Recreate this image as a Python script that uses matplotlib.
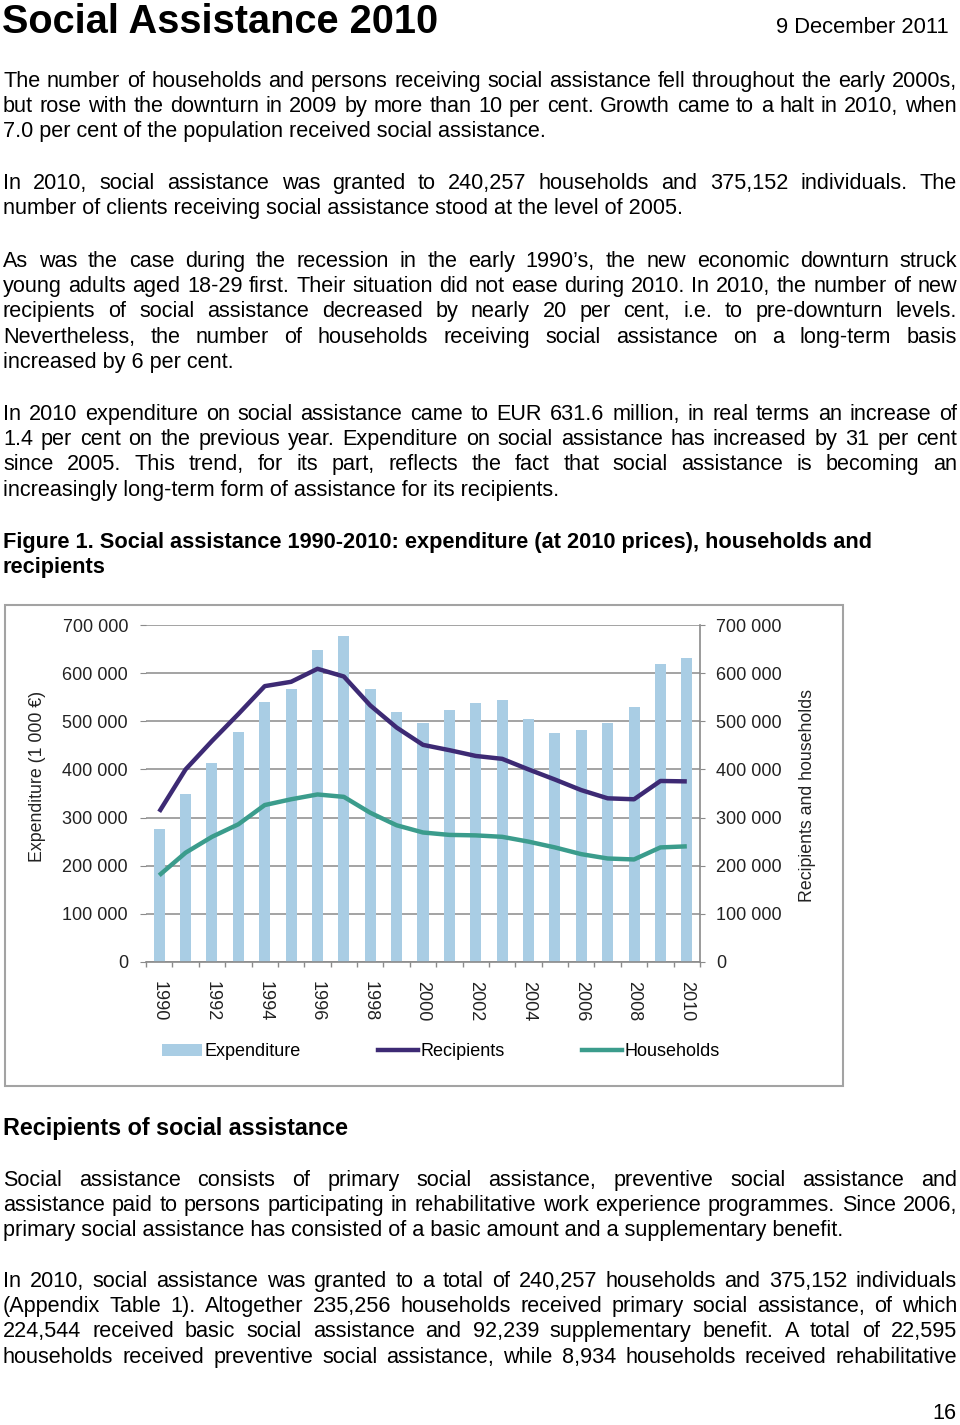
import matplotlib
matplotlib.use("Agg")
import matplotlib.pyplot as plt
from matplotlib.patches import Rectangle
from matplotlib.lines import Line2D
import numpy as np

plt.rcParams['font.family'] = ['Liberation Sans', 'DejaVu Sans']

# ── Chart data ────────────────────────────────────────────────────────────────
years = list(range(1990, 2011))
expenditure = [276000, 350000, 413000, 478000, 540000, 568000, 649000, 677000,
               568000, 519000, 497000, 523000, 537000, 544000, 505000, 475000,
               481000, 497000, 529000, 620000, 631600]
recipients = [312000, 400000, 459000, 515000, 573000, 582000, 609000, 593000,
              533000, 487000, 451000, 440000, 428000, 422000, 400000, 379000,
              357000, 340000, 338000, 376000, 375152]
households = [180000, 227000, 260000, 286000, 326000, 338000, 348000, 343000,
              310000, 284000, 269000, 264000, 263000, 260000, 250000, 238000,
              224000, 215000, 213000, 238000, 240257]
y_ticks = [0, 100000, 200000, 300000, 400000, 500000, 600000, 700000]
series_names = ["Expenditure", "Recipients", "Households"]

# ── Page text ─────────────────────────────────────────────────────────────────
paragraphs = [
    (87, ["The number of households and persons receiving social assistance fell throughout the early 2000s,",
          "but rose with the downturn in 2009 by more than 10 per cent. Growth came to a halt in 2010, when",
          "7.0 per cent of the population received social assistance."]),
    (189, ["In 2010, social assistance was granted to 240,257 households and 375,152 individuals. The",
           "number of clients receiving social assistance stood at the level of 2005."]),
    (267, ["As was the case during the recession in the early 1990\u2019s, the new economic downturn struck",
           "young adults aged 18-29 first. Their situation did not ease during 2010. In 2010, the number of new",
           "recipients of social assistance decreased by nearly 20 per cent, i.e. to pre-downturn levels.",
           "Nevertheless, the number of households receiving social assistance on a long-term basis",
           "increased by 6 per cent."]),
    (420, ["In 2010 expenditure on social assistance came to EUR 631.6 million, in real terms an increase of",
           "1.4 per cent on the previous year. Expenditure on social assistance has increased by 31 per cent",
           "since 2005. This trend, for its part, reflects the fact that social assistance is becoming an",
           "increasingly long-term form of assistance for its recipients."]),
    (1186, ["Social assistance consists of primary social assistance, preventive social assistance and",
            "assistance paid to persons participating in rehabilitative work experience programmes. Since 2006,",
            "primary social assistance has consisted of a basic amount and a supplementary benefit."]),
]
# last paragraph is cut by the page end, so every line is justified
last_paragraph = (1287, ["In 2010, social assistance was granted to a total of 240,257 households and 375,152 individuals",
                         "(Appendix Table 1). Altogether 235,256 households received primary social assistance, of which",
                         "224,544 received basic social assistance and 92,239 supplementary benefit. A total of 22,595",
                         "households received preventive social assistance, while 8,934 households received rehabilitative"])

W, H = 960, 1425
BODY = 15.6
LEAD = 25.2
C_BAR = "#a9cde4"
C_REC = "#3d2a74"
C_HH = "#3b9c8c"
C_AX = "#8a8a8a"

fig = plt.figure(figsize=(W / 100, H / 100), dpi=100)
bg = fig.add_axes([0, 0, 1, 1])
bg.set_xlim(0, W)
bg.set_ylim(H, 0)
bg.axis('off')
renderer = fig.canvas.get_renderer()


def justify(y, line, size=BODY, x0=3, x1=957):
    words = line.split(' ')
    texts = [bg.text(0, y, w, fontsize=size, va='baseline', ha='left') for w in words]
    widths = [t.get_window_extent(renderer).width for t in texts]
    gap = (x1 - x0 - sum(widths)) / (len(words) - 1)
    x = x0
    for t, w in zip(texts, widths):
        t.set_x(x)
        x += w + gap


def paragraph(y0, lines, last_justified=False):
    for i, line in enumerate(lines):
        y = y0 + i * LEAD
        if i < len(lines) - 1 or last_justified:
            justify(y, line)
        else:
            bg.text(3, y, line, fontsize=BODY, va='baseline', ha='left')


# ── Header ────────────────────────────────────────────────────────────────────
bg.text(2, 33, "Social Assistance 2010", fontsize=28.6, fontweight='bold', va='baseline')
bg.text(949, 33, "9 December 2011", fontsize=15.8, va='baseline', ha='right')

for y0, lines in paragraphs:
    paragraph(y0, lines)
paragraph(*last_paragraph, last_justified=True)

bg.text(3, 548, "Figure 1. Social assistance 1990-2010: expenditure (at 2010 prices), households and",
        fontsize=15.7, fontweight='bold', va='baseline')
bg.text(3, 573, "recipients", fontsize=15.7, fontweight='bold', va='baseline')
bg.text(3, 1135, "Recipients of social assistance", fontsize=16.8, fontweight='bold', va='baseline')
bg.text(957, 1419, "16", fontsize=BODY, va='baseline', ha='right')

# chart frame
bg.add_patch(Rectangle((5, 605), 838, 481, fill=False, edgecolor="#a3a3a3", lw=1.5))
bg.text(38, 776, "Expenditure (1 000 \u20ac)", rotation=90, fontsize=12.8,
        ha='center', va='center', color='#222222')
bg.text(808, 795, "Recipients and households", rotation=90, fontsize=12.8,
        ha='center', va='center', color='#222222')

# ── Chart ─────────────────────────────────────────────────────────────────────
ax = fig.add_axes([146 / W, 1 - 962 / H, 554 / W, 337 / H])
x = np.arange(len(years))
ax.bar(x, expenditure, width=0.42, color=C_BAR, zorder=2)
ax.set_xlim(-0.5, len(years) - 0.5)
ax.set_ylim(0, 700000)
ax.set_yticks(y_ticks)
ax.set_yticklabels([f"{v:,}".replace(',', ' ') for v in y_ticks])
ax.yaxis.grid(True, color=C_AX, lw=1.1, zorder=0)
ax.set_axisbelow(True)
for s in ['top', 'left', 'right']:
    ax.spines[s].set_visible(False)
ax.spines['bottom'].set_color(C_AX)
ax.spines['bottom'].set_linewidth(1.2)
ax.tick_params(axis='y', length=4.3, color=C_AX, pad=8.6, labelsize=13, labelcolor='#222222')
ax.set_xticks(x[::2])
ax.set_xticklabels([str(v) for v in years[::2]], rotation=-90)
ax.tick_params(axis='x', which='major', length=0, pad=13.5, labelsize=13, labelcolor='#222222')
ax.set_xticks(np.arange(-0.5, len(years), 1), minor=True)
ax.tick_params(axis='x', which='minor', length=3.6, color=C_AX, width=1)

ax2 = ax.twinx()
ax2.plot(x, recipients, color=C_REC, lw=3.2, solid_capstyle='butt', zorder=3)
ax2.plot(x, households, color=C_HH, lw=3.2, solid_capstyle='butt', zorder=3)
ax2.set_ylim(0, 700000)
ax2.set_yticks(y_ticks)
ax2.set_yticklabels([f"{v:,}".replace(',', ' ') for v in y_ticks])
for s in ['top', 'left', 'bottom']:
    ax2.spines[s].set_visible(False)
ax2.spines['right'].set_color(C_AX)
ax2.spines['right'].set_linewidth(1.2)
ax2.tick_params(axis='y', length=3.5, color=C_AX, pad=8, labelsize=13, labelcolor='#222222')

handles = [Rectangle((0, 0), 1, 1, facecolor=C_BAR),
           Line2D([], [], color=C_REC, lw=3.2),
           Line2D([], [], color=C_HH, lw=3.2)]
fig.legend(handles=handles, labels=series_names, loc='center',
           bbox_to_anchor=(441 / W, 1 - 1052 / H), ncol=3, frameon=False,
           fontsize=13, handlelength=2.2, handletextpad=0.15, columnspacing=4.3,
           handleheight=0.65)

fig.savefig("out.png", dpi=100, facecolor="white")
